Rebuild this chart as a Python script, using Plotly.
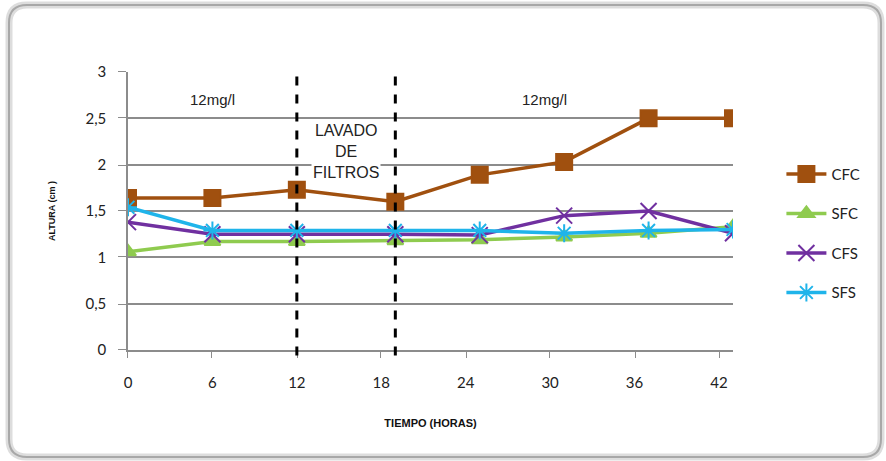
import plotly.graph_objects as go

# ---- data ----
horas = [0, 6, 12, 19, 25, 31, 37, 43]
cfc = [1.64, 1.64, 1.73, 1.60, 1.89, 2.03, 2.50, 2.50]
sfc = [1.06, 1.17, 1.17, 1.18, 1.19, 1.22, 1.26, 1.33]
cfs = [1.38, 1.25, 1.25, 1.25, 1.24, 1.45, 1.50, 1.26]
sfs = [1.54, 1.29, 1.29, 1.29, 1.29, 1.26, 1.29, 1.30]
x_ticks = [0, 6, 12, 18, 24, 30, 36, 42]
y_ticks = [0, 0.5, 1, 1.5, 2, 2.5, 3]
y_tick_text = ["0", "0,5", "1", "1,5", "2", "2,5", "3"]
lavado_x = [12, 19]

W, H = 886, 461
L, R, T, B = 128, 153, 72, 111
pw, ph = W - L - R, H - T - B

series = [
    ("CFC", cfc, "#A0500F", "square", 16),
    ("SFC", sfc, "#8FCB4F", "triangle-up", 14),
    ("CFS", cfs, "#7030A0", "x-thin", 16),
    ("SFS", sfs, "#1FB4EA", "asterisk", 15),
]

fig = go.Figure()
for i, (name, vals, col, sym, sz) in enumerate(series):
    fig.add_trace(go.Scatter(
        x=horas, y=vals, name=name, mode="lines+markers",
        line=dict(color=col, width=3.5),
        marker=dict(symbol=sym, size=sz, color=col,
                    line=dict(color=col, width=2)),
        legendgroup=name,
    ))

# dashed vertical lines
for xv in lavado_x:
    fig.add_shape(type="line", xref="x", yref="paper", x0=xv, x1=xv,
                  y0=-0.02, y1=1.015,
                  line=dict(color="black", width=3, dash="dash"))

# rounded frame
def px2paper(px, py):
    return (px - L) / pw, (H - B - py) / ph

x0p, y0p, x1p, y1p, r = 9, 5, 881, 457, 18
def P(px, py):
    a, b = px2paper(px, py)
    return f"{a:.5f},{b:.5f}"
path = (f"M {P(x0p + r, y0p)} L {P(x1p - r, y0p)} Q {P(x1p, y0p)} {P(x1p, y0p + r)} "
        f"L {P(x1p, y1p - r)} Q {P(x1p, y1p)} {P(x1p - r, y1p)} "
        f"L {P(x0p + r, y1p)} Q {P(x0p, y1p)} {P(x0p, y1p - r)} "
        f"L {P(x0p, y0p + r)} Q {P(x0p, y0p)} {P(x0p + r, y0p)} Z")
fig.add_shape(type="path", xref="paper", yref="paper", path=path,
              line=dict(color="#DDDDDD", width=7), layer="below")
fig.add_shape(type="path", xref="paper", yref="paper", path=path,
              line=dict(color="#A8A8A8", width=2), layer="below")

afont = dict(family="Liberation Sans, Arial", size=15, color="#222222")
fig.add_annotation(x=6, y=2.70, text="12mg/l", showarrow=False, font=afont)
fig.add_annotation(x=29.6, y=2.70, text="12mg/l", showarrow=False, font=afont)
fig.add_annotation(x=15.5, y=2.14, text="LAVADO<br>DE<br>FILTROS", showarrow=False,
                   font=dict(family="Liberation Sans, Arial", size=16, color="#222222"),
                   bgcolor="white")

fig.update_layout(
    width=W, height=H,
    margin=dict(l=L, r=R, t=T, b=B),
    paper_bgcolor="white", plot_bgcolor="white",
    showlegend=True,
    legend=dict(x=1.08, xanchor="left", y=0.42, yanchor="middle",
                font=dict(family="Lato, Liberation Sans", size=15, color="#222222"),
                tracegroupgap=17, itemwidth=40, bgcolor="rgba(0,0,0,0)"),
    xaxis=dict(range=[0, 43], tickvals=x_ticks, ticktext=[str(v) for v in x_ticks],
               showgrid=False, zeroline=False,
               showline=True, linecolor="#8C8C8C", linewidth=1.5,
               ticks="outside", ticklen=18, tickcolor="white", tickwidth=1,
               minor=dict(tickvals=x_ticks, ticks="outside", ticklen=6,
                          tickcolor="#8C8C8C", tickwidth=1.5, showgrid=False),
               tickfont=dict(family="Lato, Liberation Sans", size=15, color="#222222"),
               title=dict(text="<b>TIEMPO (HORAS)</b>", standoff=30,
                          font=dict(family="Liberation Sans Narrow, Liberation Sans", size=11, color="#111111"))),
    yaxis=dict(range=[0, 3], tickvals=y_ticks, ticktext=y_tick_text,
               showgrid=True, gridcolor="#8C8C8C", gridwidth=1.5,
               zeroline=False, showline=True, linecolor="#8C8C8C", linewidth=1.5,
               ticks="outside", ticklen=17, tickcolor="white", tickwidth=1,
               minor=dict(tickvals=y_ticks, ticks="outside", ticklen=8,
                          tickcolor="#8C8C8C", tickwidth=1.5, showgrid=False),
               tickfont=dict(family="Lato, Liberation Sans", size=15, color="#222222"),
               title=dict(text="<b>ALTURA (cm )</b>", standoff=28,
                          font=dict(family="Liberation Sans", size=9, color="#111111"))),
)
fig.write_html("out.html")
